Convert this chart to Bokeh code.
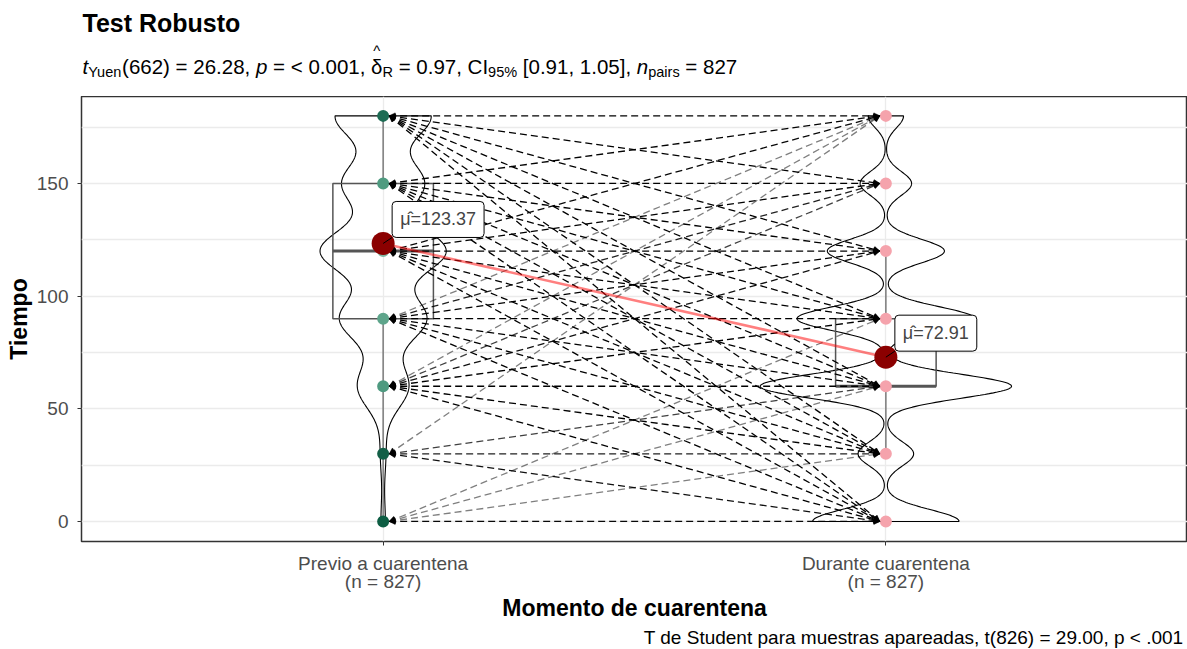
import numpy as np
from bokeh.plotting import figure
from bokeh.layouts import column
from bokeh.models import Range1d, FixedTicker, Label, Arrow, NormalHead, ColumnDataSource
from bokeh.embed import file_html
from bokeh.resources import INLINE

# ---------------- data ----------------
levels = [0, 30, 60, 90, 120, 150, 180]
categories = ["Previo a cuarentena", "Durante cuarentena"]
n_text = ["(n = 827)", "(n = 827)"]
# pair counts: rows = value before quarantine, columns = value during quarantine
pair_counts = [
    [5, 1, 1, 1, 0, 0, 0],
    [4, 3, 2, 0, 0, 0, 1],
    [30, 12, 35, 10, 4, 2, 1],
    [35, 12, 61, 35, 12, 3, 1],
    [35, 13, 75, 55, 37, 10, 5],
    [18, 7, 40, 38, 28, 12, 7],
    [18, 7, 35, 37, 35, 24, 20],
]
y_ticks = [0, 50, 100, 150]
y_grid = [0, 25, 50, 75, 100, 125, 150, 175]
title_text = "Test Robusto"
caption_text = "T de Student para muestras apareadas, t(826) = 29.00, p < .001"
subtitle_parts = [("t", "i"), ("Yuen", "s"), ("(662) = 26.28, ", "r"), ("p", "i"),
                  (" = < 0.001, ", "r"), ("δ", "h"), ("R", "s"), (" = 0.97, CI", "r"),
                  ("95%", "s"), (" [0.91, 1.05], ", "r"), ("n", "i"), ("pairs", "s"),
                  (" = 827", "r")]

# ---------------- styles ----------------
pre_point_colors = ["#0d5d43", "#135f47", "#4e9a80", "#5ea58b", "#7fb8a3", "#4f9b80", "#1d6c54"]
dur_point_color = "#F5A3AC"
FONT = "Liberation Sans"
WIDTH = 1187
FRAME_L = 81

counts = np.array(pair_counts)
lv = np.array(levels, dtype=float)
pre = np.repeat(lv, counts.sum(axis=1))
dur = np.repeat(lv, counts.sum(axis=0))
groups = [pre, dur]


def nrd0(x):
    s = x.std(ddof=1)
    q75, q25 = np.percentile(x, [75, 25])
    return 0.9 * min(s, (q75 - q25) / 1.34) * len(x) ** -0.2


def kde(x, grid, h):
    z = (grid[:, None] - x[None, :]) / h
    return np.exp(-0.5 * z * z).sum(axis=1) / (len(x) * h * np.sqrt(2 * np.pi))


grids, dens = [], []
for g in groups:
    gr = np.linspace(g.min(), g.max(), 512)
    grids.append(gr)
    dens.append(kde(g, gr, nrd0(g)))
dmax = max(d.max() for d in dens)


def blank_fig(h, top, bottom):
    f = figure(width=WIDTH, height=h, x_range=Range1d(FRAME_L, WIDTH), y_range=Range1d(bottom, top),
               output_backend="svg", toolbar_location=None, title=None,
               x_axis_type=None, y_axis_type=None, min_border=0,
               min_border_left=FRAME_L, min_border_right=0)
    f.grid.visible = False
    f.outline_line_color = None
    return f


def add_text(f, x, y, text, size, style="normal", align="left"):
    f.add_layout(Label(x=x, y=y, text=text, text_font=FONT, text_font_size=f"{size}px",
                       text_font_style=style, text_align=align, text_baseline="middle",
                       text_color="black"))


AW = {' ': 278, '(': 333, ')': 333, '=': 584, ',': 278, '.': 278, '<': 584, '[': 278, ']': 278,
      '%': 889, 't': 278, 'Y': 667, 'u': 556, 'e': 556, 'n': 556, 'p': 556, 'C': 722, 'I': 278,
      'R': 722, 'a': 556, 'i': 222, 'r': 333, 's': 500, 'δ': 556}


def tw(s, size):
    return sum(AW.get(ch, 556) for ch in s) * size / 1000.0


# ---------------- header ----------------
head = blank_fig(96, 0, 96)
add_text(head, 82, 22, title_text, 25, "bold")
S, SS = 20.5, 14.5
xcur, yc = 82, 66
for text, kind in subtitle_parts:
    size = SS if kind == "s" else S
    lead = len(text) - len(text.lstrip(" "))
    body = text.strip(" ")
    xs = xcur + tw(" " * lead, size)
    if kind == "s":
        add_text(head, xs, yc + 5, body, SS)
    else:
        add_text(head, xs, yc, body, S, "italic" if kind == "i" else "normal")
        if kind == "h":
            add_text(head, xs + tw(body, S) / 2, yc - 16, "^", 15, "normal", "center")
    xcur += tw(text, size)

# ---------------- main plot ----------------
p = figure(width=WIDTH, height=530, x_range=Range1d(0.4, 2.6), y_range=Range1d(-8.9, 188.6),
           output_backend="svg", toolbar_location=None, title=None,
           min_border_left=FRAME_L, min_border_right=0, min_border_top=0, min_border_bottom=85)
PXX = 1106 / 2.2
PXY = 445 / 197.5

p.ygrid.ticker = FixedTicker(ticks=y_grid)
p.xgrid.ticker = FixedTicker(ticks=[1, 2])
p.grid.grid_line_color = "#EBEBEB"
p.grid.grid_line_width = 1.3
p.outline_line_color = "#333333"
p.outline_line_width = 1.5

p.yaxis.ticker = FixedTicker(ticks=y_ticks)
p.xaxis.ticker = FixedTicker(ticks=[1, 2])
p.xaxis.major_label_overrides = {1: categories[0] + "\n" + n_text[0], 2: categories[1] + "\n" + n_text[1]}
for ax in (p.xaxis[0], p.yaxis[0]):
    ax.axis_line_color = None
    ax.major_tick_line_color = "#333333"
    ax.major_tick_out = 4
    ax.major_tick_in = 0
    ax.minor_tick_line_color = None
    ax.major_label_text_font = FONT
    ax.major_label_text_font_size = "19px"
    ax.major_label_text_color = "#4D4D4D"
    ax.major_label_text_line_height = 0.9
    ax.axis_label_text_font = FONT
    ax.axis_label_text_font_size = "23px"
    ax.axis_label_text_font_style = "bold"
    ax.axis_label_text_color = "black"
p.xaxis.axis_label = "Momento de cuarentena"
p.yaxis.axis_label = "Tiempo"
p.xaxis.major_label_standoff = 7
p.yaxis.major_label_standoff = 9
p.xaxis.axis_label_standoff = 0
p.yaxis.axis_label_standoff = 2

# violins
for k, (gr, d) in enumerate(zip(grids, dens)):
    c = k + 1
    hw = 0.25 * d / dmax
    xs = np.concatenate([c - hw, (c + hw)[::-1]])
    ys = np.concatenate([gr, gr[::-1]])
    p.patch(xs, ys, fill_alpha=0, line_color="black", line_width=1.1)

# boxplots
for k, g in enumerate(groups):
    c = k + 1
    q1, med, q3 = np.percentile(g, [25, 50, 75])
    iqr = q3 - q1
    lo = g[g >= q1 - 1.5 * iqr].min()
    hi = g[g <= q3 + 1.5 * iqr].max()
    p.segment(x0=[c, c], y0=[q3, q1], x1=[c, c], y1=[hi, lo], line_color="#7a7a7a", line_width=1.5)
    p.quad(left=[c - 0.1], right=[c + 0.1], bottom=[q1], top=[q3], fill_alpha=0,
           line_color="#555555", line_width=1.5)
    p.segment(x0=[c - 0.1], y0=[med], x1=[c + 0.1], y1=[med], line_color="#555555", line_width=3)

# points
p.scatter(x=[1] * len(levels), y=levels, size=12, color=pre_point_colors, line_color=None)
p.scatter(x=[2] * len(levels), y=levels, size=12, color=dur_point_color, line_color=None)

# paired lines
d = 0.012
x0, y0, x1, y1, al = [], [], [], [], []
for i, a in enumerate(levels):
    for j, b in enumerate(levels):
        cnt = pair_counts[i][j]
        if cnt > 0:
            x0.append(1 + d); y0.append(a); x1.append(2 - d); y1.append(b)
            al.append(1 - 0.5 ** cnt)
src = ColumnDataSource(dict(x0=x0, y0=y0, x1=x1, y1=y1, alpha=al))
p.add_layout(Arrow(source=src, x_start="x0", y_start="y0", x_end="x1", y_end="y1",
                   line_color="black", line_width=1.3, line_dash="7 4", line_alpha="alpha",
                   start=NormalHead(size=6, fill_color="black", line_color="black", line_width=0.5),
                   end=NormalHead(size=6, fill_color="black", line_color="black", line_width=0.5)))

# means
means = [g.mean() for g in groups]
p.line([1, 2], means, line_color="red", line_alpha=0.5, line_width=2.5, level="overlay")
p.scatter([1, 2], means, size=23, color="#8B0000", line_color=None, level="overlay")
p.segment(x0=[1, 2], y0=means, x1=[1 + 9 / PXX, 2 + 9 / PXX], y1=[m + 6 / PXY for m in means],
          line_color="black", line_width=1, level="overlay")
for k, m in enumerate(means):
    p.add_layout(Label(x=k + 1, y=m, x_offset=9, y_offset=6, text=f"μ̂={m:.2f}",
                       text_font=FONT, text_font_size="18px", text_baseline="bottom",
                       background_fill_color="white", border_line_color="black",
                       border_line_width=1, padding=8, border_radius=4, level="overlay"))

# ---------------- caption ----------------
cap = blank_fig(23, 626, 649)
add_text(cap, 1183, 637, caption_text, 19, "normal", "right")

layout = column(head, p, cap, spacing=0)
open("out.html", "w").write(file_html(layout, INLINE))
